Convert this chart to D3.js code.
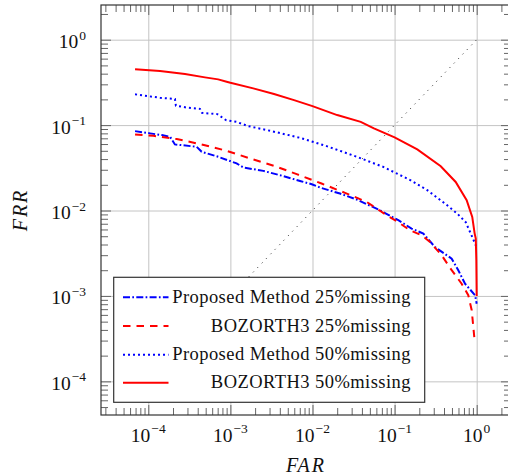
<!DOCTYPE html>
<html>
<head>
<meta charset="utf-8">
<script src="https://cdn.jsdelivr.net/npm/d3@7"></script>
<style>
  body { margin: 0; background: #fff; }
  svg { display: block; }
  text { font-family: "Liberation Serif", "DejaVu Serif", serif; fill: #111; }
</style>
</head>
<body>
<svg id="chart" width="508" height="476"></svg>
<script>
// --- data ---
const farP25 = [6.9e-5, 1.05e-4, 1.46e-4, 1.84e-4, 2.11e-4, 3.89e-4, 4.47e-4, 7.13e-4, 1.19e-3, 1.44e-3, 2.52e-3, 4.02e-3, 7.05e-3, 9.8e-3, 0.0123, 0.0216, 0.0345, 0.0632, 0.111, 0.161, 0.224, 0.31, 0.496, 0.597, 0.721, 0.955, 1.0];
const frrP25 = [0.085, 0.080, 0.0764, 0.073, 0.0594, 0.0557, 0.0487, 0.0425, 0.0356, 0.0319, 0.0291, 0.0259, 0.0222, 0.0203, 0.0186, 0.0158, 0.01345, 0.0103, 0.0077, 0.00615, 0.00537, 0.00374, 0.00273, 0.0020, 0.00139, 0.00102, 0.00081];

const farB25 = [6.9e-5, 1.15e-4, 2.22e-4, 4.47e-4, 9.0e-4, 1.73e-3, 3.49e-3, 6.42e-3, 0.0129, 0.0249, 0.0457, 0.0801, 0.111, 0.154, 0.214, 0.27, 0.375, 0.496, 0.656, 0.79, 0.87, 0.935];
const frrB25 = [0.0778, 0.075, 0.0686, 0.0594, 0.050, 0.0407, 0.0331, 0.0267, 0.0207, 0.0161, 0.0126, 0.0088, 0.0073, 0.00587, 0.00513, 0.00428, 0.00299, 0.0020, 0.00139, 0.00102, 6.8e-4, 3.3e-4];

const farP50 = [6.9e-5, 1.39e-4, 2.11e-4, 2.17e-4, 2.88e-4, 4.26e-4, 4.51e-4, 6.92e-4, 8.83e-4, 1.19e-3, 1.65e-3, 3.18e-3, 7.05e-3, 0.0149, 0.033, 0.0728, 0.157, 0.25, 0.419, 0.58, 0.735, 0.883, 1.0];
const frrP50 = [0.229, 0.209, 0.202, 0.169, 0.161, 0.155, 0.139, 0.1345, 0.1145, 0.109, 0.0973, 0.085, 0.071, 0.0567, 0.0433, 0.0324, 0.0226, 0.0173, 0.0119, 0.0092, 0.0073, 0.0049, 0.0037];

const farB50 = [6.9e-5, 1.39e-4, 2.8e-4, 4.9e-4, 7.1e-4, 9.0e-4, 1.0e-3, 1.9e-3, 3.4e-3, 5.96e-3, 0.01, 0.02, 0.0387, 0.056, 0.1, 0.189, 0.365, 0.555, 0.755, 0.883, 0.944, 0.975, 0.99, 1.0];
const frrB50 = [0.45, 0.43, 0.396, 0.362, 0.343, 0.322, 0.313, 0.269, 0.231, 0.196, 0.167, 0.131, 0.109, 0.0915, 0.0718, 0.052, 0.033, 0.0216, 0.0132, 0.0084, 0.0054, 0.0047, 0.0026, 0.001];

const diagonal = [1e-4, 1];

const seriesNames = ["Proposed Method 25%missing", "BOZORTH3 25%missing", "Proposed Method 50%missing", "BOZORTH3 50%missing"];
const majorExps = [-4, -3, -2, -1, 0];

const series = [
  { name: seriesNames[0], far: farP25, frr: frrP25, color: "#0000ff", dash: "7,2.3,1.7,2.3" },
  { name: seriesNames[1], far: farB25, frr: frrB25, color: "#ff0000", dash: "7.5,6" },
  { name: seriesNames[2], far: farP50, frr: frrP50, color: "#0000ff", dash: "2,3" },
  { name: seriesNames[3], far: farB50, frr: frrB50, color: "#ff0000", dash: null }
];

const svg = d3.select("#chart");
const pLeft = 101, pRight = 511, pTop = 5, pBottom = 415;

const x = d3.scaleLog().domain([Math.pow(10, -4.576), Math.pow(10, 0.418)]).range([pLeft, pRight]);
const y = d3.scaleLog().domain([Math.pow(10, -4.394), Math.pow(10, 0.406)]).range([pBottom, pTop]);

const majors = majorExps.map(e => Math.pow(10, e));
function minorsIn(dom) {
  const out = [];
  for (let e = -6; e <= 1; e++) {
    for (let k = 2; k <= 9; k++) {
      const v = k * Math.pow(10, e);
      if (v > dom[0] && v < dom[1]) out.push(v);
    }
  }
  return out;
}
const xMinor = minorsIn(x.domain());
const yMinor = minorsIn(y.domain());

// grid
svg.append("g")
  .attr("transform", `translate(0,${pBottom})`)
  .call(d3.axisBottom(x).tickValues(majors).tickSize(-(pBottom - pTop)).tickFormat(""))
  .call(g => g.select(".domain").remove())
  .selectAll("line").attr("stroke", "#c4c4c4").attr("stroke-width", 1);
svg.append("g")
  .attr("transform", `translate(${pLeft},0)`)
  .call(d3.axisLeft(y).tickValues(majors).tickSize(-(pRight - pLeft)).tickFormat(""))
  .call(g => g.select(".domain").remove())
  .selectAll("line").attr("stroke", "#c4c4c4").attr("stroke-width", 1);

// diagonal reference
const line = d3.line().x(d => x(d[0])).y(d => y(d[1]));
svg.append("path")
  .attr("d", line(diagonal.map(v => [v, v])))
  .attr("fill", "none").attr("stroke", "#222").attr("stroke-width", 1)
  .attr("stroke-dasharray", "1,5.3");

// curves
series.forEach(s => {
  svg.append("path")
    .attr("d", line(s.far.map((v, i) => [v, s.frr[i]])))
    .attr("fill", "none")
    .attr("stroke", s.color)
    .attr("stroke-width", 2)
    .attr("stroke-dasharray", s.dash);
});

// ticks on all four sides
function ticks(axisFn, scale, vals, len, tr) {
  svg.append("g").attr("transform", tr)
    .call(axisFn(scale).tickValues(vals).tickSize(-len).tickFormat(""))
    .call(g => g.select(".domain").remove())
    .selectAll("line").attr("stroke", "#666").attr("stroke-width", 1);
}
ticks(d3.axisBottom, x, xMinor, 7, `translate(0,${pBottom})`);
ticks(d3.axisTop, x, xMinor, 7, `translate(0,${pTop})`);
ticks(d3.axisLeft, y, yMinor, 7, `translate(${pLeft},0)`);
ticks(d3.axisRight, y, yMinor, 7, `translate(${pRight},0)`);
ticks(d3.axisBottom, x, majors, 10, `translate(0,${pBottom})`);
ticks(d3.axisTop, x, majors, 10, `translate(0,${pTop})`);
ticks(d3.axisLeft, y, majors, 10, `translate(${pLeft},0)`);
ticks(d3.axisRight, y, majors, 10, `translate(${pRight},0)`);

// frame
svg.append("rect")
  .attr("x", pLeft).attr("y", pTop)
  .attr("width", pRight - pLeft).attr("height", pBottom - pTop)
  .attr("fill", "none").attr("stroke", "#333").attr("stroke-width", 1.2);

// tick labels
function expLabel(sel, e) {
  sel.append("tspan").text("10");
  sel.append("tspan").attr("font-size", 13.5).attr("dy", -8.5).attr("dx", 1)
    .text(e < 0 ? "\u2212" + (-e) : String(e));
}
majorExps.forEach(e => {
  svg.append("text")
    .attr("x", x(Math.pow(10, e))).attr("y", 441.5)
    .attr("text-anchor", "middle").attr("font-size", 19.5)
    .call(expLabel, e);
  svg.append("text")
    .attr("x", 86).attr("y", y(Math.pow(10, e)) + 8.5)
    .attr("text-anchor", "end").attr("font-size", 19.5)
    .call(expLabel, e);
});

// axis titles
svg.append("text")
  .attr("x", (pLeft + pRight) / 2).attr("y", 472)
  .attr("text-anchor", "middle").attr("font-size", 20)
  .attr("font-style", "italic").attr("letter-spacing", 2)
  .text("FAR");
svg.append("text")
  .attr("transform", `translate(27,${(pTop + pBottom) / 2}) rotate(-90)`)
  .attr("text-anchor", "middle").attr("font-size", 20)
  .attr("font-style", "italic").attr("letter-spacing", 2)
  .text("FRR");

// legend
const legend = svg.append("g");
legend.append("rect")
  .attr("x", 113.7).attr("y", 277.3).attr("width", 311).attr("height", 125)
  .attr("fill", "#fff").attr("stroke", "#333").attr("stroke-width", 1.2);
const rowY = [297.3, 326, 354.7, 382.7];
series.forEach((s, i) => {
  legend.append("line")
    .attr("x1", 123).attr("x2", 168.5)
    .attr("y1", rowY[i]).attr("y2", rowY[i])
    .attr("stroke", s.color).attr("stroke-width", 2)
    .attr("stroke-dasharray", s.dash);
  legend.append("text")
    .attr("x", 411).attr("y", rowY[i] + 5.5)
    .attr("text-anchor", "end").attr("font-size", 18.5)
    .attr("letter-spacing", 0.45)
    .text(s.name);
});
</script>
</body>
</html>
